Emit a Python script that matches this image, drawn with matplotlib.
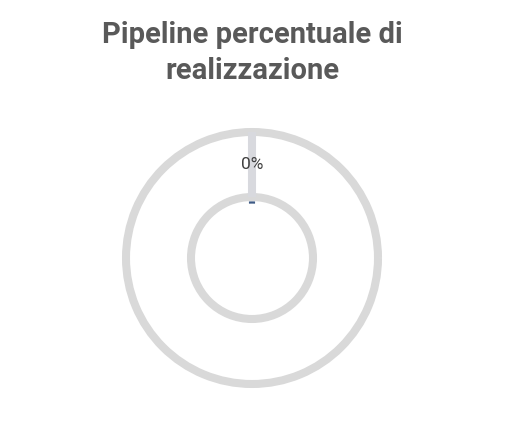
import matplotlib.pyplot as plt
import numpy as np

# dati del grafico
title = "Pipeline percentuale di\nrealizzazione"
slices = ["Realizzato", "Da realizzare"]
values = [0, 100]
colors = ["#3e5a85", "white"]

W, H = 505, 428
fig = plt.figure(figsize=(W / 100, H / 100), dpi=100)
ax = fig.add_axes([0, 0, 1, 1])

cx, cy = 252, H - 258
r_out, r_in = 126, 61

def fmt(pct):
    return "" if pct >= 99.5 else f"{pct:.0f}%"

wedges, texts, autotexts = ax.pie(
    values, colors=colors, center=(cx, cy), radius=r_out, startangle=90,
    counterclock=False, autopct=fmt, pctdistance=0.745,
    wedgeprops=dict(width=r_out - r_in, edgecolor="#d9d9d9", linewidth=5.8),
    textprops=dict(color="#404040", fontsize=12.5, family="Roboto"),
    frame=True)
ax.set_xlim(0, W)
ax.set_ylim(0, H)
ax.set_aspect("equal")
ax.axis("off")

# bordo radiale della fetta a zero
t = np.deg2rad(wedges[0].theta1)
ax.plot([cx + r_in * np.cos(t), cx + r_out * np.cos(t)],
        [cy + r_in * np.sin(t), cy + r_out * np.sin(t)],
        color="#d8d9de", lw=5.8, zorder=1.5, solid_capstyle="butt")
for txt in autotexts:
    txt.set_zorder(3)

# piccolo segno blu sul bordo interno
a = np.linspace(t - 0.035, t + 0.035, 10)
ax.plot(cx + 55.5 * np.cos(a), cy + 55.5 * np.sin(a), color=colors[0], lw=1.6)

fig.text(0.5, 1 - 53 / H, title, ha="center", va="center", fontsize=21,
         fontweight="bold", color="#595959", family="Roboto", linespacing=1.35)

fig.savefig("out.png", dpi=100)
